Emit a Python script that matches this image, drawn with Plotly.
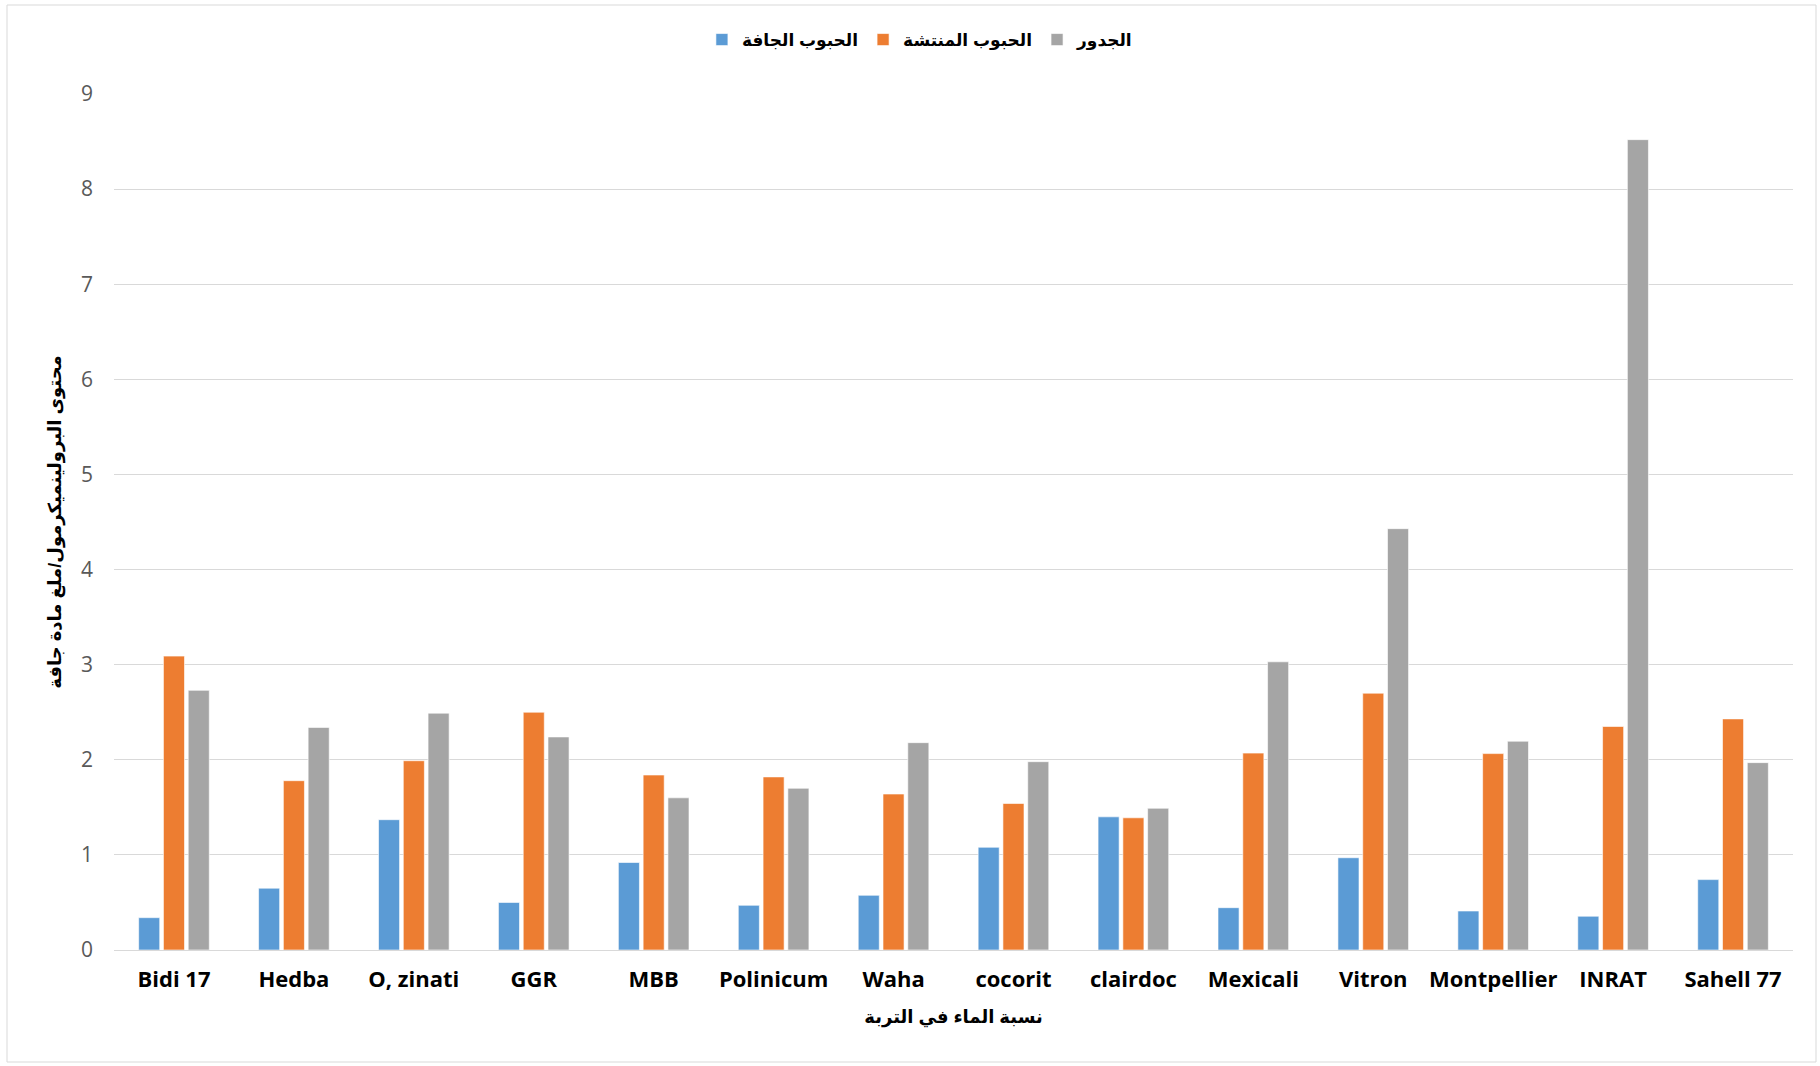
import plotly.graph_objects as go

# Wheat varieties on the category axis
varieties = ["Bidi 17", "Hedba", "O, zinati", "GGR", "MBB", "Polinicum", "Waha",
             "cocorit", "clairdoc", "Mexicali", "Vitron", "Montpellier", "INRAT", "Sahell 77"]

# Proline content per plant part (µmol / mg dry matter)
dry_seeds = [0.34, 0.65, 1.37, 0.50, 0.92, 0.47, 0.575, 1.08, 1.40, 0.445, 0.97, 0.41, 0.355, 0.74]
germinated_seeds = [3.09, 1.78, 1.99, 2.50, 1.84, 1.82, 1.64, 1.54, 1.39, 2.07, 2.70, 2.065, 2.35, 2.43]
roots = [2.73, 2.34, 2.49, 2.24, 1.60, 1.70, 2.18, 1.98, 1.49, 3.03, 4.43, 2.195, 8.52, 1.97]

series_names = ["الحبوب الجافة", "الحبوب المنتشة", "الجدور"]
series_colors = ["#5B9BD5", "#ED7D31", "#A5A5A5"]

x_title = "نسبة الماء في التربة"
y_title = "محتوى البرولينميكرمول/ملغ مادة جافة"
y_ticks = [0, 1, 2, 3, 4, 5, 6, 7, 8, 9]

arabic_font = "Arial, 'Liberation Sans', 'DejaVu Sans', sans-serif"

fig = go.Figure()
for name, values, color in zip(series_names, [dry_seeds, germinated_seeds, roots], series_colors):
    fig.add_trace(go.Bar(
        x=varieties, y=values, name=name,
        marker=dict(color=color, line=dict(color="rgba(255,255,255,0.6)", width=1)),
    ))

fig.update_layout(
    width=1820, height=1066,
    paper_bgcolor="white", plot_bgcolor="white",
    margin=dict(l=114, r=27, t=94, b=116, autoexpand=False),
    barmode="group", bargap=0.38, bargroupgap=0.15,
    showlegend=True,
    legend=dict(
        orientation="h", x=0.48, xanchor="center", y=1.0 + (94 - 40) / 856, yanchor="middle",
        font=dict(family=arabic_font, size=17, color="#000000", weight="bold"),
        itemwidth=30, traceorder="normal",
    ),
    xaxis=dict(
        showgrid=False, showline=False, ticks="",
        tickfont=dict(family="'Liberation Sans Narrow', 'Open Sans', sans-serif", size=22,
                      color="#000000", weight="bold"),
        ticklabelstandoff=14,
        title=dict(text=x_title, standoff=18,
                   font=dict(family=arabic_font, size=18, color="#000000", weight="bold")),
        automargin=False,
    ),
    yaxis=dict(
        range=[0, 9], tickvals=y_ticks,
        showgrid=True, gridcolor="#D9D9D9", gridwidth=1.3,
        zeroline=True, zerolinecolor="#D9D9D9", zerolinewidth=1.3,
        showline=False, ticks="",
        tickfont=dict(family="'Open Sans', sans-serif", size=21, color="#595959"),
        ticklabelstandoff=20,
        title=dict(text=y_title, standoff=14,
                   font=dict(family=arabic_font, size=18, color="#000000", weight="bold")),
        automargin=False,
    ),
    shapes=[dict(
        type="rect", xref="paper", yref="paper",
        x0=(7 - 114) / 1679, x1=(1816 - 114) / 1679,
        y0=(950 - 1062) / 856, y1=(950 - 5) / 856,
        line=dict(color="#D9D9D9", width=1), fillcolor="rgba(0,0,0,0)", layer="below",
    )],
)

fig.write_html("out.html")
